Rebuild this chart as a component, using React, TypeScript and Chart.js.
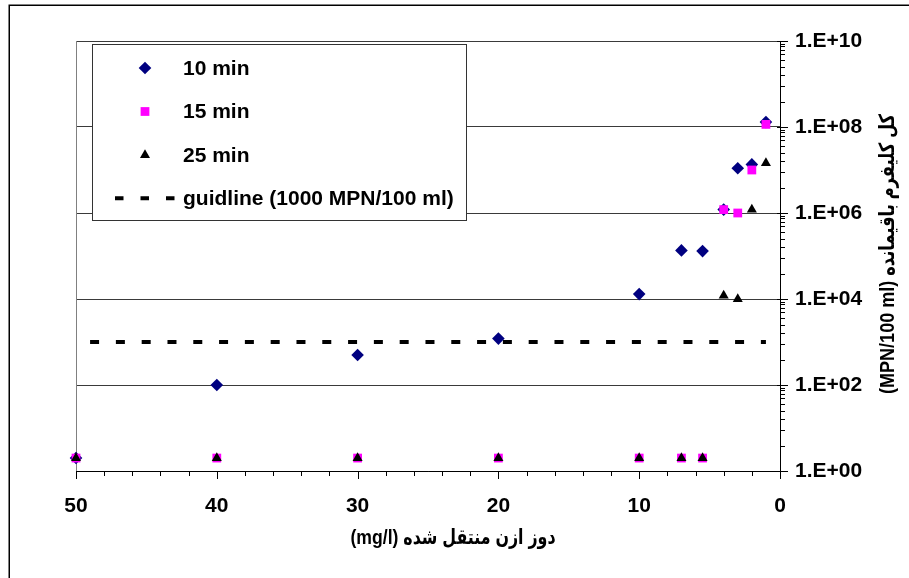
import React, { useEffect, useRef } from 'react';
import { Chart, registerables } from 'chart.js';

Chart.register(...registerables);

// ---- data ----
const doses = [50, 40, 30, 20, 10, 7, 5.5, 4, 3, 2, 1];
const min10 = [2, 100, 500, 1200, 13000, 135000, 130000, 1.2e6, 1.1e7, 1.35e7, 1.3e8];
const min15 = [2, 2, 2, 2, 2, 2, 2, 1.2e6, 1e6, 1e7, 1.15e8];
const min25 = [2, 2, 2, 2, 2, 2, 2, 1.2e4, 1e4, 1.2e6, 1.45e7];
const guideX = [49, 1];
const guideY = [1000, 1000];

const seriesLabels = ['10 min', '15 min', '25 min', 'guidline (1000 MPN/100 ml)'];
const xTitle = 'دوز ازن منتقل شده (mg/l)';
const yTitle = 'کل کلیفرم باقیمانده (MPN/100 ml)';

// ---- axis ticks ----
const xMin = 0;
const xMax = 50;
const xStep = 2;
const xLabelEvery = 10;
const yMajorExponents = [0, 2, 4, 6, 8, 10];
const yMinorFactors = [3.9, 9, 16, 25, 37, 50, 63, 75, 87];

const FONT = "'Liberation Sans', Arial, 'DejaVu Sans Condensed', 'DejaVu Sans', sans-serif";
const TITLE_FONT = "'Liberation Sans', Arial, 'DejaVu Sans Condensed', sans-serif";
const FS = 21;

const NAVY = '#000080';
const MAGENTA = '#FF00FF';
const BLACK = '#000000';

function isMajorY(v: number) {
  const e = Math.round(Math.log10(v));
  return Math.abs(v - Math.pow(10, e)) < 1e-6 * Math.pow(10, e) && e % 2 === 0;
}
function fmtY(v: number) {
  const e = Math.round(Math.log10(v));
  return '1.E+' + String(e).padStart(2, '0');
}

function drawMarker(ctx: CanvasRenderingContext2D, style: string, x: number, y: number, r: number, color: string) {
  ctx.fillStyle = color;
  ctx.beginPath();
  if (style === 'rectRot') {
    ctx.moveTo(x - r, y);
    ctx.lineTo(x, y - r);
    ctx.lineTo(x + r, y);
    ctx.lineTo(x, y + r);
  } else if (style === 'rect') {
    const s = Math.SQRT1_2 * r;
    ctx.rect(x - s, y - s, 2 * s, 2 * s);
  } else if (style === 'triangle') {
    for (let k = 0; k < 3; k++) {
      const a = (k * 2 * Math.PI) / 3;
      const px = x + Math.sin(a) * r;
      const py = y - Math.cos(a) * r;
      if (k === 0) ctx.moveTo(px, py);
      else ctx.lineTo(px, py);
    }
  }
  ctx.closePath();
  ctx.fill();
}

const decorPlugin = {
  id: 'decor',
  beforeDraw(chart: any) {
    const { ctx, width, height } = chart;
    ctx.save();
    ctx.fillStyle = '#ffffff';
    ctx.fillRect(0, 0, width, height);
    ctx.restore();
  },
  beforeDatasetsDraw(chart: any) {
    const { ctx, chartArea: a } = chart;
    ctx.save();
    ctx.strokeStyle = '#808080';
    ctx.lineWidth = 1;
    ctx.beginPath();
    const lx = Math.round(a.left) + 0.5;
    ctx.moveTo(lx, a.top);
    ctx.lineTo(lx, a.bottom);
    ctx.stroke();
    ctx.restore();
  },
  afterDraw(chart: any) {
    const { ctx, chartArea: a, scales } = chart;
    const xs = scales.x;
    const ys = scales.y;
    ctx.save();
    // tick marks
    ctx.strokeStyle = BLACK;
    ctx.lineWidth = 1;
    ctx.beginPath();
    xs.ticks.forEach((t: any) => {
      const px = Math.round(xs.getPixelForValue(t.value)) + 0.5;
      const major = t.value % xLabelEvery === 0;
      ctx.moveTo(px, a.bottom);
      ctx.lineTo(px, a.bottom + (major ? 8 : 5));
    });
    ys.ticks.forEach((t: any) => {
      const py = Math.round(ys.getPixelForValue(t.value)) + 0.5;
      const major = isMajorY(t.value);
      ctx.moveTo(a.right - (major ? 3 : 0), py);
      ctx.lineTo(a.right + (major ? 8 : 5), py);
    });
    ctx.stroke();

    // outer frame (cut by the picture edges)
    ctx.lineWidth = 1.5;
    ctx.beginPath();
    ctx.moveTo(9.25, chart.height);
    ctx.lineTo(9.25, 5.25);
    ctx.lineTo(chart.width, 5.25);
    ctx.stroke();

    // axis titles
    ctx.fillStyle = BLACK;
    ctx.font = `bold ${FS}px ${TITLE_FONT}`;
    ctx.direction = 'rtl';
    ctx.textAlign = 'center';
    ctx.textBaseline = 'middle';
    ctx.fillText(xTitle, (a.left + a.right) / 2 + 25, 538, 205);
    ctx.save();
    ctx.translate(888, (a.top + a.bottom) / 2 - 2);
    ctx.rotate(-Math.PI / 2);
    ctx.fillText(yTitle, 0, 0, 280);
    ctx.restore();

    // legend box
    ctx.direction = 'ltr';
    const bx = 92.5, by = 44.5, bw = 374, bh = 176;
    ctx.fillStyle = '#ffffff';
    ctx.fillRect(bx, by, bw, bh);
    ctx.strokeStyle = '#333333';
    ctx.lineWidth = 1;
    ctx.strokeRect(bx, by, bw, bh);
    const rows = [68, 111.5, 155, 198.3];
    const markerX = 145;
    const textX = 183;
    chart.data.datasets.forEach((ds: any, i: number) => {
      const y = rows[i];
      if (ds.type === 'line') {
        ctx.save();
        ctx.strokeStyle = ds.borderColor;
        ctx.lineWidth = ds.borderWidth;
        ctx.setLineDash([8.5, 17]);
        ctx.beginPath();
        ctx.moveTo(115, y);
        ctx.lineTo(175, y);
        ctx.stroke();
        ctx.restore();
      } else {
        drawMarker(ctx, ds.pointStyle, markerX, y, ds.pointRadius, ds.backgroundColor);
      }
      ctx.fillStyle = BLACK;
      ctx.font = `bold ${FS}px ${FONT}`;
      ctx.textAlign = 'left';
      ctx.textBaseline = 'middle';
      ctx.fillText(ds.label, textX, y + 1);
    });
    ctx.restore();
  },
};

export default function App() {
  const ref = useRef<HTMLCanvasElement | null>(null);

  useEffect(() => {
    if (!ref.current) return;
    const pts = (ys: number[]) => doses.map((x, i) => ({ x, y: ys[i] }));
    const chart = new Chart(ref.current, {
      type: 'scatter',
      data: {
        datasets: [
          {
            label: seriesLabels[0],
            data: pts(min10),
            pointStyle: 'rectRot',
            pointRadius: 6.3,
            backgroundColor: NAVY,
            borderColor: NAVY,
            borderWidth: 0,
            order: 3,
            clip: false,
          },
          {
            label: seriesLabels[1],
            data: pts(min15),
            pointStyle: 'rect',
            pointRadius: 6.2,
            backgroundColor: MAGENTA,
            borderColor: MAGENTA,
            borderWidth: 0,
            order: 2,
            clip: false,
          },
          {
            label: seriesLabels[2],
            data: pts(min25),
            pointStyle: 'triangle',
            pointRadius: 5.8,
            backgroundColor: BLACK,
            borderColor: BLACK,
            borderWidth: 0,
            order: 1,
            clip: false,
          },
          {
            type: 'line',
            label: seriesLabels[3],
            data: guideX.map((x, i) => ({ x, y: guideY[i] })),
            borderColor: BLACK,
            backgroundColor: BLACK,
            borderWidth: 4,
            borderDash: [9, 16.8],
            borderCapStyle: 'butt',
            pointRadius: 0,
            fill: false,
            showLine: true,
            order: 4,
            clip: false,
          } as any,
        ],
      },
      options: {
        responsive: false,
        animation: false,
        events: [],
        layout: { padding: { left: 76, top: 41, right: 0, bottom: 0 } },
        font: { family: FONT, size: FS, weight: 'bold' } as any,
        plugins: {
          legend: { display: false },
          tooltip: { enabled: false },
          title: { display: false },
        },
        scales: {
          x: {
            type: 'linear',
            position: 'bottom',
            min: xMin,
            max: xMax,
            reverse: true,
            ticks: {
              stepSize: xStep,
              maxTicksLimit: 100,
              autoSkip: false,
              maxRotation: 0,
              padding: 23,
              color: BLACK,
              font: { family: FONT, size: FS, weight: 'bold' },
              callback: (v: any) => (Number(v) % xLabelEvery === 0 ? String(v) : ''),
            },
            grid: { display: false, drawTicks: false },
            border: { display: true, color: BLACK, width: 1 },
            afterFit: (s: any) => {
              s.height = 107;
            },
          },
          y: {
            type: 'logarithmic',
            position: 'right',
            min: 1,
            max: 1e10,
            afterBuildTicks: (scale: any) => {
              const t: any[] = [];
              yMajorExponents.forEach((e, i) => {
                t.push({ value: Math.pow(10, e) });
                if (i < yMajorExponents.length - 1) {
                  yMinorFactors.forEach((f) => t.push({ value: f * Math.pow(10, e) }));
                }
              });
              scale.ticks = t;
            },
            ticks: {
              autoSkip: false,
              padding: 15,
              color: BLACK,
              font: { family: FONT, size: FS, weight: 'bold' },
              callback: (v: any) => (isMajorY(Number(v)) ? fmtY(Number(v)) : ''),
            },
            grid: {
              drawTicks: false,
              lineWidth: 1,
              color: (c: any) => (c.tick && isMajorY(c.tick.value) ? '#3a3a3a' : 'rgba(0,0,0,0)'),
            },
            border: { display: true, color: BLACK, width: 1 },
            afterFit: (s: any) => {
              s.width = 129;
            },
          },
        },
      },
      plugins: [decorPlugin],
    } as any);
    return () => chart.destroy();
  }, []);

  return (
    <div style={{ position: 'fixed', left: 0, top: 0, width: 909, height: 578, background: '#fff' }}>
      <canvas ref={ref} width={909} height={578} style={{ display: 'block' }} />
    </div>
  );
}
